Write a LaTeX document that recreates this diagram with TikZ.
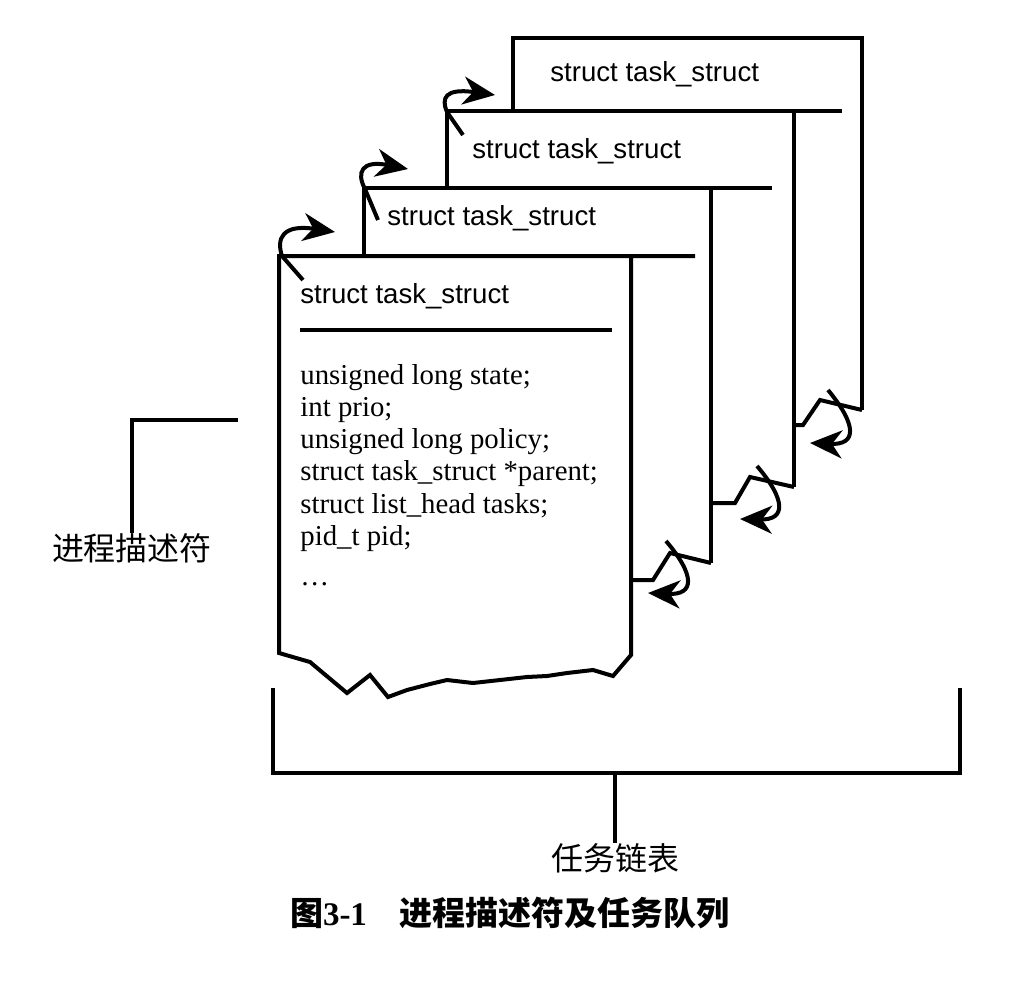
\documentclass[tikz,border=0pt]{standalone}
\usepackage{fontspec}
\setmainfont{Liberation Serif}
\setsansfont{Liberation Sans}
\newfontfamily\cjkfont{Noto Sans CJK SC}
\usepackage{tikz}
\usetikzlibrary{
  arrows.meta,
  positioning,
  calc
}

\begin{document}
\begin{tikzpicture}[
  x=0.5pt, y=-0.5pt,
  boxline/.style={line width=2pt, line join=miter},
  ptrarrow/.style={line width=2pt, -{Stealth[length=16pt, width=14pt, inset=5pt]}},
  headtext/.style={anchor=base west, inner sep=0pt, font=\sffamily\fontsize{13.8}{16}\selectfont},
  fieldtext/.style={anchor=north west, inner sep=0pt, align=left, font=\fontsize{14.4}{16.1}\selectfont},
  cjklabel/.style={inner sep=0pt, font=\cjkfont\fontsize{16}{18}\selectfont},
  bracket/.style={line width=2.2pt}
]
  \useasboundingbox (0,0) rectangle (1018,982);

  % the four task_struct boxes, back to front
  \draw[boxline] (513,111) -- (513,38) -- (862,38) -- (862,410);
  \node[headtext] (head4) at (550,81) {struct task\_struct};

  \draw[boxline] (447,188) -- (447,111) -- (842,111);
  \draw[boxline] (794,111) -- (794,487);
  \node[headtext] (head3) at (472,158) {struct task\_struct};

  \draw[boxline] (364,256) -- (364,188) -- (772,188);
  \draw[boxline] (711,188) -- (711,563);
  \node[headtext] (head2) at (387,225) {struct task\_struct};

  \draw[boxline] (695,256) -- (279,256) -- (279,653) -- (310,662) -- (347,693)
    -- (370,675) -- (388,697) -- (407,690) -- (430,684) -- (447,680)
    -- (473,683) -- (500,680) -- (527,677) -- (547,676) -- (567,673)
    -- (593,670) -- (613,676) -- (631,655) -- (631,256);
  \node[headtext] (head1) at (300,303) {struct task\_struct};
  \draw[boxline] (300,330) -- (612,330);
  \node[fieldtext] (fields1) at (300,364) {unsigned long state;\\
    int prio;\\
    unsigned long policy;\\
    struct task\_struct *parent;\\
    struct list\_head tasks;\\
    pid\_t pid;\\[4pt]
    \dots};

  % links between the boxes
  \draw[boxline] (631,580) -- (653,580) -- (670,553) -- (711,563);
  \draw[boxline] (711,503) -- (735,503) -- (750,477) -- (794,487);
  \draw[boxline] (794,425) -- (803,425) -- (820,400) -- (862,410);

  % next pointers
  \draw[ptrarrow] (303,280) -- (282,256) .. controls (276,238) and (283,224) .. (335,232);
  \draw[ptrarrow] (378,220) -- (365,189) .. controls (356,172) and (362,160) .. (408,169);
  \draw[ptrarrow] (463,135) -- (447,112) .. controls (441,98) and (445,88) .. (495,95);

  % prev pointers
  \draw[ptrarrow] (666,541) .. controls (695,575) and (695,595) .. (648,593);
  \draw[ptrarrow] (757,466) .. controls (786,500) and (786,520) .. (740,519);
  \draw[ptrarrow] (828,390) .. controls (857,425) and (857,445) .. (810,443);

  % labels
  \node[cjklabel, anchor=north] (desc) at (132,533) {进程描述符};
  \coordinate (descTip) at (238,420);
  \draw[bracket] (descTip) -| (desc.north);

  \coordinate (listL) at (273,688);
  \coordinate (listR) at (960,688);
  \coordinate (listMid) at (615,773);
  \node[cjklabel, anchor=north] (tasklist) at (615,843) {任务链表};
  \draw[bracket] (listL) -- (listL |- listMid) -- (listR |- listMid) -- (listR);
  \draw[bracket] (listMid) -- (tasklist.north);

  \node[cjklabel, font=\cjkfont\bfseries\fontsize{16.5}{18}\selectfont] (caption) at (510,913)
    {图{\rmfamily\bfseries 3-1}\quad 进程描述符及任务队列};
\end{tikzpicture}
\end{document}
